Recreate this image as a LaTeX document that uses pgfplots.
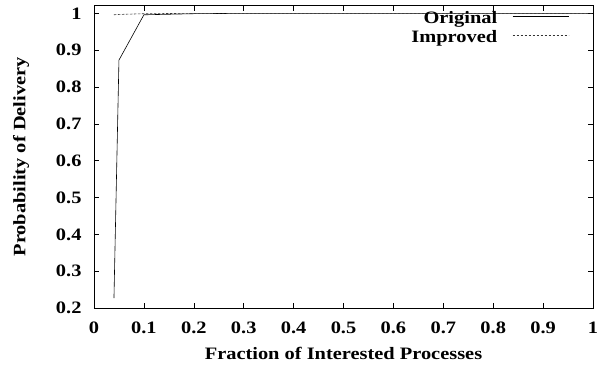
\documentclass[border=0pt]{standalone}
\usepackage{fontspec}
\setmainfont{Liberation Serif}[FakeStretch=1.17]
\usepackage{pgfplots}
\pgfplotsset{compat=1.18}
\begin{document}
\begin{tikzpicture}
\useasboundingbox (-94bp,-57bp) rectangle (521bp,308bp);
\begin{axis}[
  at={(0,0)}, anchor=south west,
  scale only axis,
  width=499bp, height=302.3bp,
  xmin=0, xmax=1, ymin=0.2, ymax=1.0207,
  xtick={0,0.1,0.2,0.3,0.4,0.5,0.6,0.7,0.8,0.9,1},
  ytick={0.2,0.3,0.4,0.5,0.6,0.7,0.8,0.9,1},
  xticklabels={0,0.1,0.2,0.3,0.4,0.5,0.6,0.7,0.8,0.9,1},
  yticklabels={0.2,0.3,0.4,0.5,0.6,0.7,0.8,0.9,1},
  /pgf/number format/assume math mode=true,
  tick align=inside,
  major tick length=5bp,
  tick style={black, line width=0.5pt},
  axis line style={line width=0.6pt},
  ticklabel style={font=\fontsize{17.5}{20}\selectfont\bfseries},
  xticklabel style={anchor=base, yshift=-25bp},
  yticklabel style={anchor=east, xshift=-9bp},
  xlabel={Fraction of Interested Processes},
  ylabel={Probability of Delivery},
  label style={font=\fontsize{17.5}{20}\selectfont\bfseries},
  xlabel style={at={(axis description cs:0.5,-0.172)}, anchor=base},
  ylabel style={at={(axis description cs:-0.146,0.5)}, anchor=center},
  legend plot pos=right,
  legend cell align=right,
  legend style={draw=none, fill=none, at={(1,1)}, anchor=north east,
    xshift=-24bp, yshift=-6bp, font=\fontsize{17.5}{20}\selectfont\bfseries,
    column sep=15bp, inner sep=0pt,
    nodes={inner sep=0pt, text height=12bp, text depth=4.5bp}, row sep=2.5bp},
  legend image code/.code={\draw[#1] (0bp,3.5bp) -- (56bp,3.5bp);},
]
\addplot[black, line width=0.6pt] coordinates {
(0.04,0.227) (0.05,0.873) (0.1,0.996) (0.2,0.999) (0.3,1) (0.4,1) (0.5,1) (0.6,1) (0.7,1) (0.8,1) (0.9,1) (1,1)};
\addlegendentry{Original}
\addplot[black!80, line width=0.6pt, dash pattern=on 2.5bp off 1.5bp] coordinates {
(0.04,0.996) (0.05,0.997) (0.1,0.999) (0.2,1) (0.3,1) (0.4,1) (0.5,1) (0.6,1) (0.7,1) (0.8,1) (0.9,1) (1,1)};
\addlegendentry{Improved}
\end{axis}
\end{tikzpicture}
\end{document}
